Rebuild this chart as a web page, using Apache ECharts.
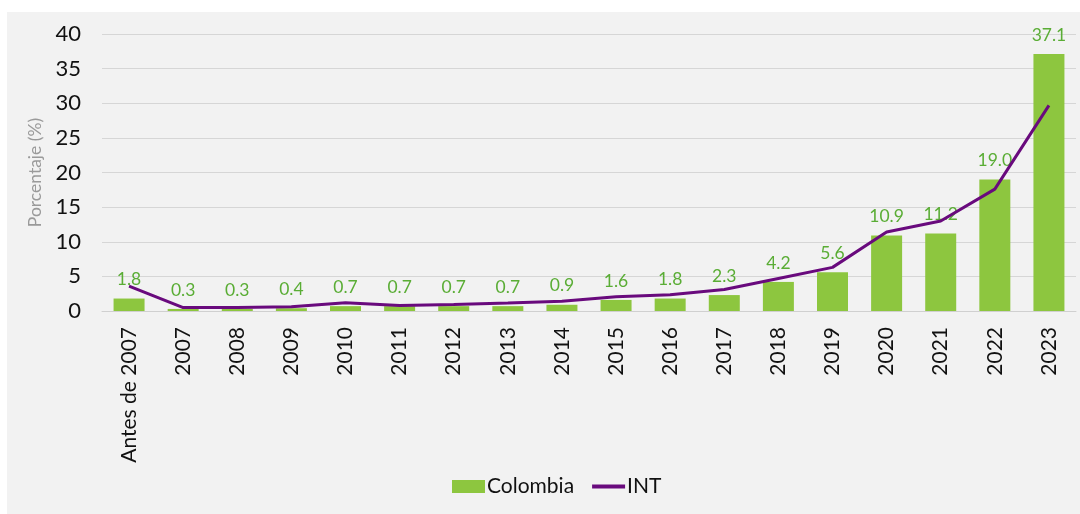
<!DOCTYPE html>
<html>
<head>
<meta charset="utf-8">
<script src="https://cdn.jsdelivr.net/npm/echarts@6/dist/echarts.min.js"></script>
<style>
  html, body { margin: 0; padding: 0; background: #ffffff; }
  #panel { position: absolute; left: 7px; top: 12px; width: 1073px; height: 502px; background: #f2f2f2; }
  #chart { position: absolute; left: 0; top: 0; width: 1080px; height: 514px; }
</style>
</head>
<body>
<div id="panel"></div>
<div id="chart"></div>
<script>
// Categories (years) and the two series, in percent
const categories = ['Antes de 2007', '2007', '2008', '2009', '2010', '2011', '2012', '2013', '2014',
  '2015', '2016', '2017', '2018', '2019', '2020', '2021', '2022', '2023'];
const colombia = [1.8, 0.3, 0.3, 0.4, 0.7, 0.7, 0.7, 0.7, 0.9, 1.6, 1.8, 2.3, 4.2, 5.6, 10.9, 11.2, 19.0, 37.1];
const intl = [3.6, 0.5, 0.5, 0.6, 1.2, 0.8, 0.95, 1.15, 1.4, 2.05, 2.35, 3.1, 4.7, 6.3, 11.4, 13.0, 17.6, 29.7];
const yTicks = { min: 0, max: 40, interval: 5 };

const font = 'Lato, "Open Sans", sans-serif';
const chart = echarts.init(document.getElementById('chart'), null, { renderer: 'canvas' });
chart.setOption({
  backgroundColor: 'transparent',
  animation: false,
  textStyle: { fontFamily: font },
  grid: { left: 102, right: 4, top: 34, bottom: 203, containLabel: false },
  legend: {
    bottom: 12,
    left: 447,
    itemGap: 18,
    itemWidth: 33,
    itemHeight: 13,
    textStyle: { fontFamily: font, fontSize: 21, color: '#111111', padding: [0, 0, 0, -3] },
    data: [
      { name: 'Colombia', icon: 'rect' },
      { name: 'INT', icon: 'path://M0,0 L34,0 L34,4 L0,4 Z', itemStyle: { color: '#690a7d' } }
    ]
  },
  xAxis: {
    type: 'category',
    data: categories,
    axisLine: { lineStyle: { color: '#d0d0d0', width: 1 } },
    axisTick: { show: false },
    axisLabel: { rotate: 90, fontSize: 21, color: '#111111', fontFamily: font, margin: 16, interval: 0 }
  },
  yAxis: {
    type: 'value',
    min: yTicks.min,
    max: yTicks.max,
    interval: yTicks.interval,
    name: 'Porcentaje (%)',
    nameLocation: 'middle',
    nameGap: 53,
    nameTextStyle: { color: '#9a9a9a', fontSize: 17.5, fontFamily: font },
    axisLine: { show: false },
    axisTick: { show: false },
    axisLabel: { fontSize: 22, color: '#111111', fontFamily: font, margin: 21 },
    splitLine: { lineStyle: { color: '#d6d6d6', width: 1 } }
  },
  series: [
    {
      name: 'Colombia',
      type: 'bar',
      data: colombia,
      barWidth: 31,
      itemStyle: { color: '#8dc63f' },
      label: {
        show: true,
        position: 'top',
        distance: 10,
        color: '#5aad35',
        fontSize: 17.5,
        fontFamily: font,
        formatter: p => p.value.toFixed(1)
      },
      z: 2
    },
    {
      name: 'INT',
      type: 'line',
      data: intl,
      showSymbol: false,
      symbol: 'none',
      lineStyle: { color: '#690a7d', width: 3 },
      itemStyle: { color: '#690a7d' },
      z: 3
    }
  ]
});
</script>
</body>
</html>
